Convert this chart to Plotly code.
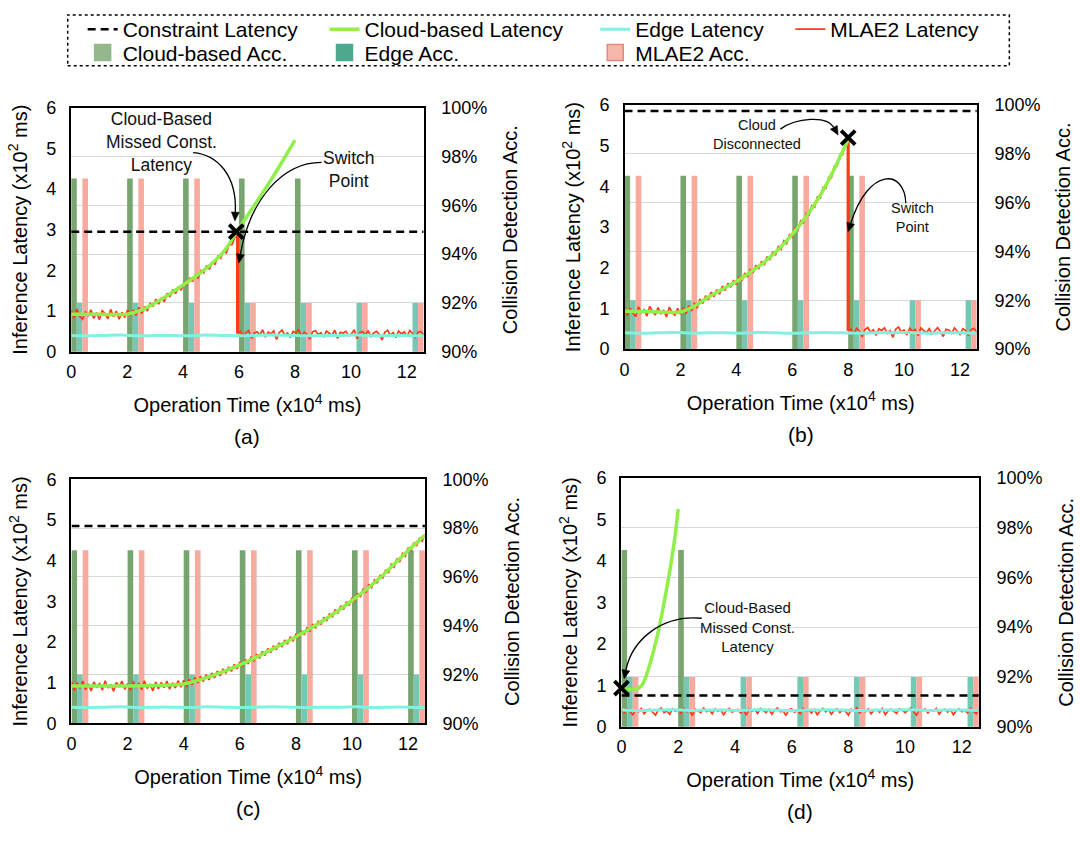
import numpy as np
import plotly.graph_objects as go

W, H = 1080, 846
FONT = "Liberation Sans, Arial, Helvetica, sans-serif"

# ---------------- shared values ----------------
X_TICKS = [0, 2, 4, 6, 8, 10, 12]
X_RANGE = [0, 12.6]
LAT_TICKS = [0, 1, 2, 3, 4, 5, 6]
ACC_TICKS = [90, 92, 94, 96, 98, 100]
ACC_LABELS = ["90%", "92%", "94%", "96%", "98%", "100%"]
GROUP_X = [0, 2, 4, 6, 8, 10, 12]   # start of each accuracy-bar group (x10^4 ms)

# edge latency (x10^2 ms), sampled evenly over 0..12.6
EDGE_LAT = [0.40, 0.39, 0.40, 0.41, 0.39, 0.40, 0.40, 0.39, 0.41, 0.40, 0.39,
            0.40, 0.41, 0.40, 0.39, 0.40, 0.40, 0.41, 0.39, 0.40, 0.40, 0.39]

# ---------------- panel (a) ----------------
A_CONSTRAINT = 2.95
A_CLOUD_X = [0, 1, 2, 2.5, 3, 3.5, 4, 4.5, 5, 5.5, 5.9, 6.5, 7, 7.5, 8]
A_CLOUD_Y = [0.92, 0.92, 0.92, 1.02, 1.20, 1.41, 1.64, 1.88, 2.15, 2.50, 2.93, 3.55, 4.07, 4.62, 5.20]
A_SWITCH = 5.95
A_ML_PRE = [1.02, 0.83, 1.05, 0.87, 0.80, 0.99, 0.89, 1.03, 0.82, 0.96, 0.79, 1.01, 0.94, 0.81, 1.04,
            0.86, 1.00, 0.80, 0.97, 0.84, 1.03, 0.89, 1.03, 0.89, 1.09, 0.94, 1.11, 1.00, 1.20, 1.11,
            1.29, 1.17, 1.33, 1.23, 1.44, 1.35, 1.53, 1.43, 1.60, 1.51, 1.71, 1.64, 1.82, 1.72, 1.89,
            1.80, 2.00, 1.94, 2.12, 2.03, 2.20, 2.15, 2.35, 2.30, 2.48, 2.43, 2.63, 2.63, 2.81, 2.90]
A_ML_POST = [0.45, 0.50, 0.38, 0.47, 0.52, 0.33, 0.46, 0.49, 0.41, 0.54, 0.36, 0.48, 0.44, 0.51, 0.30,
             0.47, 0.53, 0.40, 0.46, 0.35, 0.50, 0.45, 0.55, 0.38, 0.48, 0.43, 0.31, 0.49, 0.52, 0.42,
             0.47, 0.36, 0.51, 0.45, 0.40, 0.53, 0.33, 0.48, 0.46, 0.50, 0.39, 0.44, 0.54, 0.32, 0.47,
             0.49, 0.41, 0.52, 0.37, 0.46, 0.50, 0.43, 0.29, 0.48, 0.53, 0.40, 0.47, 0.35, 0.51, 0.44,
             0.49, 0.38, 0.52, 0.45, 0.34, 0.48, 0.50, 0.42]
A_MISS_X = [5.9]
A_MISS_Y = [2.95]
A_ACC_CLOUD = [97.1, 97.1, 97.1, 97.1, 97.1, None, None]
A_ACC_EDGE = [92.0, 92.0, 92.0, 92.0, 92.0, 92.0, 92.0]
A_ACC_MLAE2 = [97.1, 97.1, 97.1, 92.0, 92.0, 92.0, 92.0]

# ---------------- panel (b) ----------------
B_CONSTRAINT = 5.85
B_CLOUD_X = [0, 1, 2, 2.5, 3, 3.5, 4, 4.5, 5, 5.5, 6, 6.5, 7, 7.5, 8]
B_CLOUD_Y = [0.93, 0.92, 0.91, 1.06, 1.28, 1.47, 1.66, 1.89, 2.14, 2.45, 2.82, 3.26, 3.78, 4.42, 5.15]
B_SWITCH = 8.0
B_ML_PRE = [1.03, 0.82, 1.01, 0.88, 0.80, 1.04, 0.90, 0.97, 0.81, 1.05, 0.93, 0.84, 1.02, 0.87, 0.96,
            0.79, 1.03, 0.90, 0.83, 1.00, 0.86,
            1.02, 0.87, 1.07, 0.94, 1.14, 1.01, 1.23, 1.12, 1.31, 1.21,
            1.40, 1.29, 1.46, 1.35, 1.55, 1.44, 1.62, 1.52, 1.69, 1.59,
            1.78, 1.68, 1.87, 1.77, 1.96, 1.87, 2.06, 1.97, 2.16, 2.07,
            2.27, 2.19, 2.39, 2.31, 2.52, 2.45, 2.66, 2.59, 2.81, 2.75,
            2.97, 2.92, 3.15, 3.10, 3.33, 3.29, 3.53, 3.49, 3.74, 3.71,
            3.97, 3.95, 4.22, 4.21, 4.49, 4.49, 4.77, 4.78, 5.07, 5.15]
B_ML_POST = [0.45, 0.49, 0.36, 0.51, 0.44, 0.30, 0.48, 0.53, 0.41, 0.47, 0.34, 0.50, 0.46, 0.52, 0.38,
             0.45, 0.29, 0.49, 0.54, 0.42, 0.47, 0.35, 0.51, 0.44, 0.48, 0.33, 0.52, 0.46, 0.40, 0.50,
             0.37, 0.45, 0.53, 0.43, 0.31, 0.49, 0.47, 0.39, 0.52, 0.44, 0.36, 0.50, 0.46, 0.33, 0.48,
             0.51, 0.42]
B_MISS_X = [8.0]
B_MISS_Y = [5.2]
B_ACC_CLOUD = [97.1, 97.1, 97.1, 97.1, 97.1, None, None]
B_ACC_EDGE = [92.0, 92.0, 92.0, 92.0, 92.0, 92.0, 92.0]
B_ACC_MLAE2 = [97.1, 97.1, 97.1, 97.1, 97.1, 92.0, 92.0]

# ---------------- panel (c) ----------------
C_CONSTRAINT = 4.85
C_CLOUD_X = [0, 1, 2, 3, 4, 4.5, 5, 6, 7, 8, 9, 10, 11, 12, 12.6]
C_CLOUD_Y = [0.92, 0.92, 0.92, 0.93, 0.97, 1.06, 1.17, 1.44, 1.77, 2.13, 2.54, 3.02, 3.58, 4.25, 4.63]
C_ML = [1.03, 0.81, 1.00, 0.86, 1.04, 0.83, 0.97, 0.80, 1.02, 0.88, 0.99,
        0.82, 1.05, 0.87, 0.96, 0.79, 1.01, 0.90, 1.04, 0.84, 0.98,
        0.81, 1.03, 0.89, 0.99, 0.83, 1.05, 0.86, 0.97, 0.80, 1.02,
        0.85, 1.01, 0.88, 1.04, 0.84, 1.00, 0.87, 1.05, 0.89, 1.06,
        0.90, 1.09, 0.95, 1.13, 0.99, 1.16, 1.03, 1.20, 1.07, 1.24,
        1.12, 1.29, 1.17, 1.34, 1.23, 1.39, 1.28, 1.45, 1.34, 1.51,
        1.40, 1.57, 1.46, 1.64, 1.53, 1.70, 1.60, 1.77, 1.67, 1.84,
        1.74, 1.91, 1.81, 1.98, 1.88, 2.05, 1.95, 2.13, 2.02, 2.20,
        2.10, 2.28, 2.18, 2.36, 2.26, 2.44, 2.34, 2.52, 2.43, 2.61,
        2.52, 2.70, 2.61, 2.80, 2.71, 2.89, 2.80, 2.99, 2.90, 3.09,
        3.00, 3.20, 3.11, 3.31, 3.22, 3.42, 3.34, 3.53, 3.45, 3.65,
        3.57, 3.78, 3.70, 3.91, 3.84, 4.05, 3.97, 4.18, 4.11, 4.32,
        4.24, 4.44, 4.36, 4.56, 4.48, 4.64]
C_ACC_CLOUD = [97.1, 97.1, 97.1, 97.1, 97.1, 97.1, 97.1]
C_ACC_EDGE = [92.0, 92.0, 92.0, 92.0, 92.0, 92.0, 92.0]
C_ACC_MLAE2 = [97.1, 97.1, 97.1, 97.1, 97.1, 97.1, 97.1]

# ---------------- panel (d) ----------------
D_CONSTRAINT = 0.75
D_CLOUD_X = [0, 0.25, 0.5, 0.7, 0.85, 1.0, 1.15, 1.3, 1.45, 1.6, 1.75, 1.9, 2.0]
D_CLOUD_Y = [0.93, 0.90, 0.90, 0.98, 1.18, 1.50, 1.87, 2.30, 2.80, 3.35, 3.95, 4.65, 5.25]
D_ML = [0.40, 0.33, 0.43, 0.37, 0.29, 0.41, 0.36, 0.44, 0.31, 0.39,
        0.42, 0.35, 0.28, 0.40, 0.45, 0.34, 0.38, 0.30, 0.43, 0.37,
        0.41, 0.32, 0.44, 0.36, 0.39, 0.27, 0.42, 0.38, 0.34, 0.45,
        0.36, 0.40, 0.31, 0.43, 0.37, 0.41, 0.29, 0.39, 0.44, 0.35,
        0.38, 0.42, 0.33, 0.40, 0.28, 0.43, 0.37, 0.41, 0.32, 0.44,
        0.39, 0.34, 0.42, 0.30, 0.40, 0.45, 0.36, 0.38, 0.27, 0.41,
        0.43, 0.35, 0.39, 0.31, 0.44, 0.37, 0.40, 0.33, 0.42, 0.29,
        0.38, 0.44, 0.36, 0.41, 0.30, 0.39, 0.43, 0.34, 0.40, 0.37,
        0.28, 0.42, 0.38, 0.45, 0.33, 0.40, 0.36, 0.43, 0.31, 0.39,
        0.41, 0.35, 0.44, 0.29, 0.38, 0.42, 0.37, 0.32, 0.43, 0.40,
        0.34, 0.39, 0.45, 0.36, 0.28, 0.41, 0.38, 0.43, 0.33, 0.40,
        0.37, 0.44, 0.30, 0.39, 0.42, 0.35, 0.41, 0.29, 0.38, 0.43,
        0.36, 0.40, 0.33, 0.44, 0.38, 0.31, 0.42]
D_MISS_X = [0.0]
D_MISS_Y = [0.93]
D_ACC_CLOUD = [97.1, 97.1, None, None, None, None, None]
D_ACC_EDGE = [92.0, 92.0, 92.0, 92.0, 92.0, 92.0, 92.0]
D_ACC_MLAE2 = [92.0, 92.0, 92.0, 92.0, 92.0, 92.0, 92.0]

# ---------------- styling ----------------
C_CLOUD_LINE = "#8ff04a"
C_EDGE_LINE = "#7ff2e2"
C_ML_LINE = "#ff3a1a"
C_CLOUD_BAR = "#6e9e63"
C_EDGE_BAR = "#6cc3ad"
C_ML_BAR = "#f8a396"
BAR_W = 0.2
BAR_OFF = (0.1, 0.3, 0.5)

# plot-area boxes in pixels: (left, right, top, bottom)
PANELS = [
    dict(label="(a)", box=(66.5, 420.6, 100.0, 350.0), cons=A_CONSTRAINT,
         cloud=(A_CLOUD_X, A_CLOUD_Y),
         ml=[(0.0, A_SWITCH, A_ML_PRE), (A_SWITCH, 12.6, A_ML_POST)],
         miss=(A_MISS_X, A_MISS_Y), acc=(A_ACC_CLOUD, A_ACC_EDGE, A_ACC_MLAE2)),
    dict(label="(b)", box=(622.4, 976.3, 97.3, 347.3), cons=B_CONSTRAINT,
         cloud=(B_CLOUD_X, B_CLOUD_Y),
         ml=[(0.0, B_SWITCH, B_ML_PRE), (B_SWITCH, 12.6, B_ML_POST)],
         miss=(B_MISS_X, B_MISS_Y), acc=(B_ACC_CLOUD, B_ACC_EDGE, B_ACC_MLAE2)),
    dict(label="(c)", box=(66.8, 421.9, 480.7, 730.7), cons=C_CONSTRAINT,
         cloud=(C_CLOUD_X, C_CLOUD_Y),
         ml=[(0.0, 12.6, C_ML)],
         miss=None, acc=(C_ACC_CLOUD, C_ACC_EDGE, C_ACC_MLAE2)),
    dict(label="(d)", box=(619.3, 978.4, 479.3, 734.0), cons=D_CONSTRAINT,
         cloud=(D_CLOUD_X, D_CLOUD_Y),
         ml=[(0.0, 12.6, D_ML)],
         miss=(D_MISS_X, D_MISS_Y), acc=(D_ACC_CLOUD, D_ACC_EDGE, D_ACC_MLAE2)),
]


def px2paper(x, y):
    return x / W, 1 - y / H


def axname(prefix, n, layout=False):
    if layout:
        return prefix + ("axis" if n == 1 else f"axis{n}")
    return prefix if n == 1 else f"{prefix}{n}"


# one legend per entry so every entry can be placed like the reference (4 columns x 2 rows)
LEGEND_POS = {  # name: (legend id, text-left x px, row-centre y px)
    "Constraint Latency": ("legend", 123, 20),
    "Cloud-based Latency": ("legend2", 366, 20),
    "Edge Latency": ("legend3", 638, 20),
    "MLAE2 Latency": ("legend4", 834, 20),
    "Cloud-based Acc.": ("legend5", 123, 44),
    "Edge Acc.": ("legend6", 366, 44),
    "MLAE2 Acc.": ("legend7", 638, 44),
}

fig = go.Figure()
layout = dict(
    width=W, height=H, margin=dict(l=0, r=0, t=0, b=0),
    paper_bgcolor="white", plot_bgcolor="white",
    font=dict(family=FONT, size=18, color="black"),
    barmode="overlay", showlegend=True,
    shapes=[], annotations=[],
)

for i, p in enumerate(PANELS, start=1):
    left, right, top, bottom = p["box"]
    xd = [left / W, right / W]
    yd = [1 - bottom / H, 1 - top / H]
    xa = axname("x", i)
    ya_acc = axname("y", 2 * i - 1)
    ya_lat = axname("y", 2 * i)
    first = i == 1

    layout[axname("x", i, True)] = dict(
        domain=xd, anchor=ya_acc, range=X_RANGE, tickvals=X_TICKS,
        showline=True, mirror=True, linecolor="black", linewidth=2,
        showgrid=False, zeroline=False, ticks="", ticklabelstandoff=3,
        tickfont=dict(size=18),
        title=dict(text="Operation Time (x10<sup>4</sup> ms)", font=dict(size=20), standoff=17),
    )
    layout[axname("y", 2 * i - 1, True)] = dict(
        domain=yd, anchor=xa, side="right", range=[90, 100],
        tickvals=ACC_TICKS, ticktext=ACC_LABELS,
        showgrid=True, gridcolor="#d8d8d8", gridwidth=1,
        showline=True, mirror=True, linecolor="black", linewidth=2,
        zeroline=False, ticks="", ticklabelstandoff=12, tickfont=dict(size=18),
        title=dict(text="Collision Detection Acc.", font=dict(size=20), standoff=17),
    )
    layout[axname("y", 2 * i, True)] = dict(
        overlaying=ya_acc, anchor=xa, side="left", range=[0, 6], tickvals=LAT_TICKS,
        showgrid=False, zeroline=False, showline=False, ticks="", ticklabelstandoff=14,
        tickfont=dict(size=18),
        title=dict(text="Inference Latency (x10<sup>2</sup> ms)", font=dict(size=20), standoff=13),
    )

    # accuracy bars (on the base, right-hand axis -> drawn beneath the lines)
    acc_cloud, acc_edge, acc_ml = p["acc"]
    for vals, off, col, nm in ((acc_cloud, BAR_OFF[0], C_CLOUD_BAR, "Cloud-based Acc."),
                               (acc_edge, BAR_OFF[1], C_EDGE_BAR, "Edge Acc."),
                               (acc_ml, BAR_OFF[2], C_ML_BAR, "MLAE2 Acc.")):
        fig.add_trace(go.Bar(
            x=[g + off for g in GROUP_X], y=vals, width=BAR_W, name=nm,
            marker=dict(color=col, line=dict(width=0)), opacity=0.92,
            xaxis=xa, yaxis=ya_acc, showlegend=False, hoverinfo="skip",
        ))

    # MLAE2 latency
    ml_x, ml_y = [], []
    for (x0, x1, vals) in p["ml"]:
        ml_x += list(np.linspace(x0, x1, len(vals)))
        ml_y += list(vals)
    fig.add_trace(go.Scatter(
        x=ml_x, y=ml_y, mode="lines", name="MLAE2 Latency",
        line=dict(color=C_ML_LINE, width=1.7), xaxis=xa, yaxis=ya_lat,
        showlegend=first, legend=LEGEND_POS["MLAE2 Latency"][0], hoverinfo="skip",
    ))
    if len(p["ml"]) == 2:
        sw = p["ml"][0][1]
        fig.add_trace(go.Scatter(
            x=[sw, sw], y=[p["ml"][0][2][-1], p["ml"][1][2][0]], mode="lines",
            line=dict(color=C_ML_LINE, width=3.2), xaxis=xa, yaxis=ya_lat,
            showlegend=False, hoverinfo="skip",
        ))

    # cloud-based latency
    cx, cy = p["cloud"]
    fig.add_trace(go.Scatter(
        x=cx, y=cy, mode="lines", name="Cloud-based Latency",
        line=dict(color=C_CLOUD_LINE, width=3.5, shape="spline", smoothing=0.7),
        xaxis=xa, yaxis=ya_lat, showlegend=first,
        legend=LEGEND_POS["Cloud-based Latency"][0], hoverinfo="skip",
    ))
    # edge latency
    fig.add_trace(go.Scatter(
        x=list(np.linspace(X_RANGE[0], X_RANGE[1], len(EDGE_LAT))), y=EDGE_LAT,
        mode="lines", name="Edge Latency",
        line=dict(color=C_EDGE_LINE, width=3, shape="spline"),
        xaxis=xa, yaxis=ya_lat, showlegend=first,
        legend=LEGEND_POS["Edge Latency"][0], hoverinfo="skip",
    ))
    # constraint
    fig.add_trace(go.Scatter(
        x=X_RANGE, y=[p["cons"], p["cons"]], mode="lines", name="Constraint Latency",
        line=dict(color="black", width=2.5, dash="8px,5px"),
        xaxis=xa, yaxis=ya_lat, showlegend=first,
        legend=LEGEND_POS["Constraint Latency"][0], hoverinfo="skip",
    ))
    # missed / disconnected marker
    if p["miss"] is not None:
        fig.add_trace(go.Scatter(
            x=p["miss"][0], y=p["miss"][1], mode="markers",
            marker=dict(symbol="x-thin", size=14, line=dict(width=3.8, color="black")),
            xaxis=xa, yaxis=ya_lat, showlegend=False, cliponaxis=False, hoverinfo="skip",
        ))

    lx, ly = px2paper((left + right) / 2, bottom + 87)
    layout["annotations"].append(dict(
        text=p["label"], x=lx, y=ly, xref="paper", yref="paper", showarrow=False,
        font=dict(size=21), xanchor="center", yanchor="middle"))

# legend-only swatches for the accuracy bars
for nm, col, edge in (("Cloud-based Acc.", "#93b98a", "#93b98a"),
                      ("Edge Acc.", "#4ea88d", "#4ea88d"),
                      ("MLAE2 Acc.", "#f4b8aa", "#e5897a")):
    fig.add_trace(go.Scatter(x=[None], y=[None], name=nm, mode="markers",
                             marker=dict(symbol="square", size=18, color=col,
                                         line=dict(color=edge, width=1.5)),
                             xaxis="x", yaxis="y2", legend=LEGEND_POS[nm][0], showlegend=True))

LEG_FONT = dict(family=FONT, size=21, color="black")
for nm, (key, tx, ty) in LEGEND_POS.items():
    layout[key] = dict(x=(tx - 45) / W, y=1 - ty / H, xanchor="left", yanchor="middle",
                       orientation="v", font=LEG_FONT, bgcolor="rgba(0,0,0,0)",
                       borderwidth=0, tracegroupgap=0, itemwidth=30, itemsizing="trace")

# dotted legend frame
x0, y0 = px2paper(63, 57)
x1, y1 = px2paper(1009, 5)
layout["shapes"].append(dict(type="rect", xref="paper", yref="paper", x0=x0, y0=y0, x1=x1, y1=y1,
                             line=dict(color="black", width=1.5, dash="dot"), fillcolor="rgba(0,0,0,0)"))

# callout texts
CALLOUTS = [
    ("Cloud-Based<br>Missed Const.<br>Latency", 157, 135, 17.5),
    ("Switch<br>Point", 346, 163, 17.5),
    ("Cloud<br>Disconnected", 755, 128, 14.5),
    ("Switch<br>Point", 912, 213, 14.5),
    ("Cloud-Based<br>Missed Const.<br>Latency", 746, 632, 15),
]
for txt, cxp, cyp, fs in CALLOUTS:
    ax_, ay_ = px2paper(cxp, cyp)
    layout["annotations"].append(dict(text=txt, x=ax_, y=ay_, xref="paper", yref="paper",
                                      showarrow=False, font=dict(size=fs, color="#111"),
                                      xanchor="center", yanchor="middle", align="center"))

# curved arrows: cubic bezier path + filled triangular head (pixel coords)
ARROWS = [
    ((189, 146), (214, 148), (233, 170), (231, 216)),
    ((318, 156), (278, 156), (246, 195), (235, 259)),
    ((779, 122), (795, 110), (826, 108), (837, 128)),
    ((905, 198), (904, 163), (868, 160), (847, 227)),
    ((700, 623), (660, 619), (630, 645), (622, 685)),
]
for a, b, c, d in ARROWS:
    dx, dy = d[0] - c[0], d[1] - c[1]
    n = (dx * dx + dy * dy) ** 0.5
    ux, uy = dx / n, dy / n
    L, hw = 9.0, 4.0
    base = (d[0] - ux * L, d[1] - uy * L)
    pa, pb, pc, pd, pbase = (px2paper(*q) for q in (a, b, c, d, base))
    path = f"M {pa[0]},{pa[1]} C {pb[0]},{pb[1]} {pc[0]},{pc[1]} {pbase[0]},{pbase[1]}"
    layout["shapes"].append(dict(type="path", xref="paper", yref="paper", path=path,
                                 line=dict(color="black", width=1.3)))
    p1 = px2paper(base[0] - uy * hw, base[1] + ux * hw)
    p2 = px2paper(base[0] + uy * hw, base[1] - ux * hw)
    tri = f"M {pd[0]},{pd[1]} L {p1[0]},{p1[1]} L {p2[0]},{p2[1]} Z"
    layout["shapes"].append(dict(type="path", xref="paper", yref="paper", path=tri,
                                 line=dict(color="black", width=0.5), fillcolor="black"))

fig.update_layout(**layout)
fig.write_html("out.html", config={"displayModeBar": False},
               post_script="document.body.style.margin='0px';")
